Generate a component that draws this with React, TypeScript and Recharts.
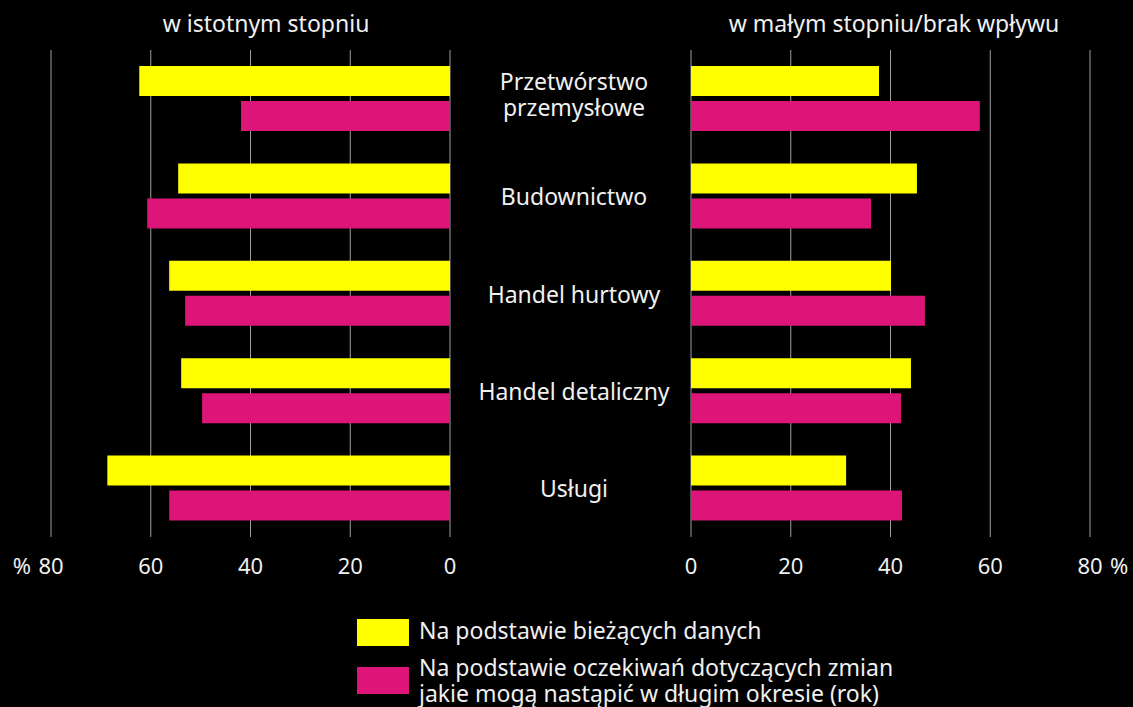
import React from 'react';
import { BarChart, Bar, XAxis, YAxis, CartesianGrid } from 'recharts';

const sectors = ['Przetwórstwo przemysłowe', 'Budownictwo', 'Handel hurtowy', 'Handel detaliczny', 'Usługi'];
const sectorLines = [['Przetwórstwo', 'przemysłowe'], ['Budownictwo'], ['Handel hurtowy'], ['Handel detaliczny'], ['Usługi']];

// w istotnym stopniu
const strongCurrent = [62.3, 54.5, 56.3, 53.9, 68.7];
const strongExpected = [41.9, 60.7, 53.1, 49.7, 56.3];
// w małym stopniu / brak wpływu
const weakCurrent = [37.7, 45.3, 40.1, 44.1, 31.1];
const weakExpected = [57.9, 36.1, 46.9, 42.1, 42.3];

const axisTicks = [0, 20, 40, 60, 80];
const titles = ['w istotnym stopniu', 'w małym stopniu/brak wpływu'];
const legendItems = [
  { label: ['Na podstawie bieżących danych'], color: '#FFFF00' },
  { label: ['Na podstawie oczekiwań dotyczących zmian', 'jakie mogą nastąpić w długim okresie (rok)'], color: '#DD1579' }
];

const FONT = '"Noto Sans", "Open Sans", sans-serif';
const YELLOW = '#FFFF00';
const PINK = '#DD1579';
const TEXT = '#F0F0F0';

const leftData = sectors.map((name, i) => ({ name, current: strongCurrent[i], expected: strongExpected[i] }));
const rightData = sectors.map((name, i) => ({ name, current: weakCurrent[i], expected: weakExpected[i] }));

const ValueTick = ({ x, y, payload, side }: any) => {
  const v = payload.value;
  return (
    <g>
      <text x={x} y={y + 37} textAnchor="middle" fill={TEXT} fontSize={22} fontFamily={FONT}>{v}</text>
      {v === 80 && side === 'left' && (
        <text x={x - 20} y={y + 37} textAnchor="end" fill={TEXT} fontSize={22} fontFamily={FONT}>%</text>
      )}
      {v === 80 && side === 'right' && (
        <text x={x + 20} y={y + 37} textAnchor="start" fill={TEXT} fontSize={22} fontFamily={FONT}>%</text>
      )}
    </g>
  );
};

const SectorTick = ({ y, index }: any) => {
  const lines = sectorLines[index] || [];
  const lh = 26;
  const start = y - ((lines.length - 1) * lh) / 2 - (lines.length > 1 ? 5 : 0);
  return (
    <text x={574} y={start} textAnchor="middle" fill={TEXT} fontSize={23} fontFamily={FONT} dominantBaseline="central">
      {lines.map((l, k) => (
        <tspan key={k} x={574} y={start + k * lh}>{l}</tspan>
      ))}
    </text>
  );
};

export default function App() {
  return (
    <div style={{ position: 'absolute', left: 0, top: 0, width: 1133, height: 707, background: '#000', overflow: 'hidden', fontFamily: FONT }}>
      <div style={{ position: 'absolute', left: 266, top: 23, transform: 'translate(-50%, -50%)', color: TEXT, fontSize: 23, whiteSpace: 'nowrap' }}>{titles[0]}</div>
      <div style={{ position: 'absolute', left: 894, top: 23, transform: 'translate(-50%, -50%)', color: TEXT, fontSize: 23, whiteSpace: 'nowrap' }}>{titles[1]}</div>

      <div style={{ position: 'absolute', left: 0, top: 0 }}>
        <BarChart width={691} height={600} data={leftData} layout="vertical" margin={{ top: 50, right: 0, bottom: 33, left: 51 }} barSize={30} barGap={5}>
          <CartesianGrid horizontal={false} vertical stroke="#A0A0A0" strokeWidth={1} />
          <XAxis type="number" domain={[0, 80]} ticks={axisTicks} reversed axisLine={false} tickLine={false} tickSize={0} tickMargin={0} height={30} interval={0} tick={<ValueTick side="left" />} />
          <YAxis type="category" dataKey="name" orientation="right" width={241} axisLine={false} tickLine={false} tickSize={0} tickMargin={0} interval={0} tick={<SectorTick />} />
          <Bar dataKey="current" fill={YELLOW} isAnimationActive={false} />
          <Bar dataKey="expected" fill={PINK} isAnimationActive={false} />
        </BarChart>
      </div>

      <div style={{ position: 'absolute', left: 671, top: 0 }}>
        <BarChart width={462} height={600} data={rightData} layout="vertical" margin={{ top: 50, right: 43, bottom: 33, left: 20 }} barSize={30} barGap={5}>
          <CartesianGrid horizontal={false} vertical stroke="#A0A0A0" strokeWidth={1} />
          <XAxis type="number" domain={[0, 80]} ticks={axisTicks} axisLine={false} tickLine={false} tickSize={0} tickMargin={0} height={30} interval={0} tick={<ValueTick side="right" />} />
          <YAxis type="category" dataKey="name" hide />
          <Bar dataKey="current" fill={YELLOW} isAnimationActive={false} />
          <Bar dataKey="expected" fill={PINK} isAnimationActive={false} />
        </BarChart>
      </div>

      {legendItems.map((item, i) => (
        <div key={i} style={{ position: 'absolute', left: 357, top: i === 0 ? 619 : 667, display: 'flex', alignItems: 'flex-start' }}>
          <div style={{ width: 52, height: 27, background: item.color, flexShrink: 0 }} />
          <div style={{ marginLeft: 10, marginTop: i === 0 ? -2 : -13, color: TEXT, fontSize: 23, lineHeight: '26px', whiteSpace: 'nowrap' }}>
            {item.label.map((l, k) => <div key={k}>{l}</div>)}
          </div>
        </div>
      ))}
    </div>
  );
}
